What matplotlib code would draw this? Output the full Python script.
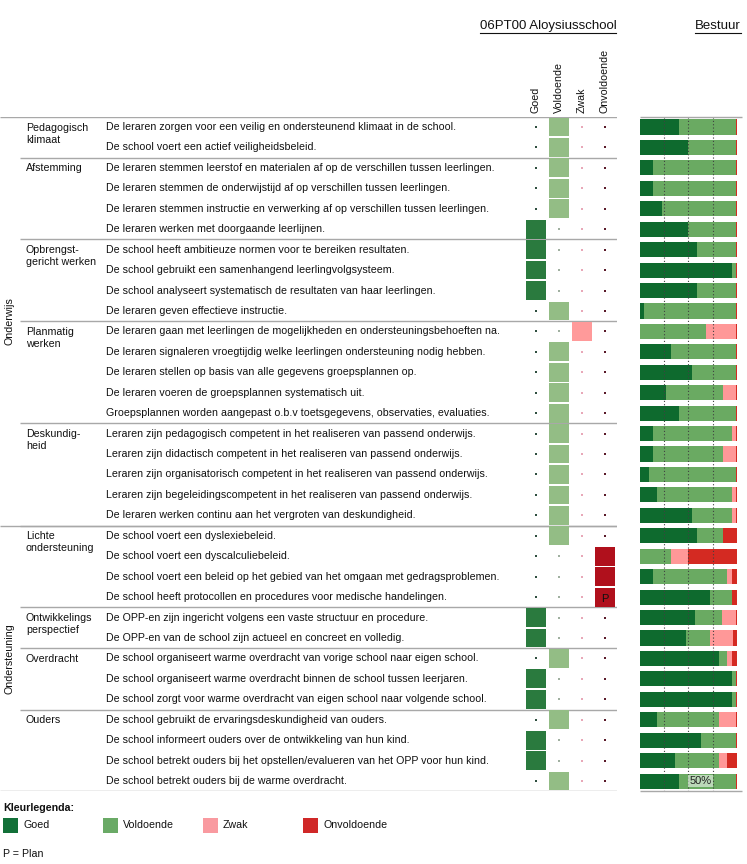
import numpy as np
import matplotlib
matplotlib.use("Agg")
import matplotlib.pyplot as plt

plt.rcParams['font.family'] = ['Liberation Sans', 'DejaVu Sans']

# --- data ---
domains = ["Onderwijs", "Ondersteuning"]
domain_sizes = [20, 13]
groups = ["Pedagogisch\nklimaat", "Afstemming", "Opbrengst-\ngericht werken", "Planmatig\nwerken",
          "Deskundig-\nheid", "Lichte\nondersteuning", "Ontwikkelings\nperspectief", "Overdracht", "Ouders"]
group_sizes = [2, 4, 4, 5, 5, 4, 2, 3, 4]
items = [
    "De leraren zorgen voor een veilig en ondersteunend klimaat in de school.",
    "De school voert een actief veiligheidsbeleid.",
    "De leraren stemmen leerstof en materialen af op de verschillen tussen leerlingen.",
    "De leraren stemmen de onderwijstijd af op verschillen tussen leerlingen.",
    "De leraren stemmen instructie en verwerking af op verschillen tussen leerlingen.",
    "De leraren werken met doorgaande leerlijnen.",
    "De school heeft ambitieuze normen voor te bereiken resultaten.",
    "De school gebruikt een samenhangend leerlingvolgsysteem.",
    "De school analyseert systematisch de resultaten van haar leerlingen.",
    "De leraren geven effectieve instructie.",
    "De leraren gaan met leerlingen de mogelijkheden en ondersteuningsbehoeften na.",
    "De leraren signaleren vroegtijdig welke leerlingen ondersteuning nodig hebben.",
    "De leraren stellen op basis van alle gegevens groepsplannen op.",
    "De leraren voeren de groepsplannen systematisch uit.",
    "Groepsplannen worden aangepast o.b.v toetsgegevens, observaties, evaluaties.",
    "Leraren zijn pedagogisch competent in het realiseren van passend onderwijs.",
    "Leraren zijn didactisch competent in het realiseren van passend onderwijs.",
    "Leraren zijn organisatorisch competent in het realiseren van passend onderwijs.",
    "Leraren zijn begeleidingscompetent in het realiseren van passend onderwijs.",
    "De leraren werken continu aan het vergroten van deskundigheid.",
    "De school voert een dyslexiebeleid.",
    "De school voert een dyscalculiebeleid.",
    "De school voert een beleid op het gebied van het omgaan met gedragsproblemen.",
    "De school heeft protocollen en procedures voor medische handelingen.",
    "De OPP-en zijn ingericht volgens een vaste structuur en procedure.",
    "De OPP-en van de school zijn actueel en concreet en volledig.",
    "De school organiseert warme overdracht van vorige school naar eigen school.",
    "De school organiseert warme overdracht binnen de school tussen leerjaren.",
    "De school zorgt voor warme overdracht van eigen school naar volgende school.",
    "De school gebruikt de ervaringsdeskundigheid van ouders.",
    "De school informeert ouders over de ontwikkeling van hun kind.",
    "De school betrekt ouders bij het opstellen/evalueren van het OPP voor hun kind.",
    "De school betrekt ouders bij de warme overdracht.",
]
levels = ["Goed", "Voldoende", "Zwak", "Onvoldoende"]
# school score: 0=Goed 1=Voldoende 2=Zwak 3=Onvoldoende
school = [1, 1, 1, 1, 1, 0, 0, 0, 0, 1, 2, 1, 1, 1, 1, 1, 1, 1, 1, 1,
          1, 3, 3, 3, 0, 0, 1, 0, 0, 1, 0, 0, 1]
plan = [24]  # item number with "P"
# bestuur distribution (%)
b_goed = [40, 50, 13, 13, 23, 50, 59, 95, 59, 4, 0, 32, 54, 27, 40, 13, 13, 9, 18, 54,
          59, 0, 13, 72, 57, 48, 82, 95, 95, 18, 63, 36, 40]
b_vold = [59, 49, 86, 86, 76, 49, 40, 4, 40, 95, 68, 67, 45, 59, 59, 82, 73, 90, 77, 41,
          27, 32, 77, 23, 28, 24, 8, 4, 4, 64, 36, 46, 59]
b_zwak = [0, 0, 0, 0, 0, 0, 0, 0, 0, 0, 31, 0, 0, 13, 0, 4, 13, 0, 4, 4,
          0, 18, 5, 0, 14, 24, 5, 0, 0, 17, 0, 8, 0]
b_onv = [1, 1, 1, 1, 1, 1, 1, 1, 1, 1, 1, 1, 1, 1, 1, 1, 1, 1, 1, 1,
         14, 50, 5, 5, 1, 4, 5, 1, 1, 1, 1, 10, 1]

sq_colors = ["#2a7a3e", "#93bd85", "#ff9a9a", "#b0101c"]
dot_colors = ["#2f4f3f", "#a0b0a0", "#e8a8b8", "#5a1a2a"]
bar_colors = ["#0e6a2e", "#6aaa62", "#ff9898", "#d42a22"]
leg_colors = ["#127038", "#6aaa66", "#f99aa0", "#d02828"]

fs = 7.65
W, H = 747, 864
fig = plt.figure(figsize=(W / 100, H / 100), dpi=100)
top_px, bot_px = 116.8, 791.3
n = len(items)
fb = 1 - bot_px / H
fh = (bot_px - top_px) / H

# text / table area in pixel x units
ax = fig.add_axes([0, fb, 617 / W, fh])
ax.set_xlim(0, 617)
ax.set_ylim(n - 0.5, -0.5)
ax.axis("off")
for i, t in enumerate(items):
    ax.text(106, i, t, fontsize=fs, va="center", ha="left", color="#111111")

lc = "#a8a8a8"
ax.hlines(-0.5, 0, 617, color=lc, lw=1)
start = 0
for g, s in zip(groups, group_sizes):
    ax.text(26, start - 0.22, g, fontsize=fs, va="top", ha="left", color="#111111", linespacing=1.25)
    if start > 0:
        ax.hlines(start - 0.5, 20, 617, color=lc, lw=1)
    start += s
start = 0
for d, s in zip(domains, domain_sizes):
    ax.text(10, start + s / 2 - 0.5, d, fontsize=fs, rotation=90, va="center", ha="center", color="#111111")
    if start > 0:
        ax.hlines(start - 0.5, 0, 617, color=lc, lw=1)
    start += s
ax.hlines(n - 0.5, 0, 617, color=lc, lw=1)

# school matrix
axm = fig.add_axes([524.5 / W, fb, 92 / W, fh])
axm.set_xlim(-0.5, 3.5)
axm.set_ylim(n - 0.5, -0.5)
axm.axis("off")
rows = np.arange(n)
for c in range(4):
    sel = [i for i in rows if school[i] == c]
    oth = [i for i in rows if school[i] != c]
    axm.bar([c] * len(sel), 0.92, width=0.83, bottom=np.array(sel) - 0.46, color=sq_colors[c])
    axm.scatter([c] * len(oth), oth, s=3, marker="s", color=dot_colors[c], lw=0)
for p in plan:
    axm.text(3, p - 1 + 0.1, "P", fontsize=8, ha="center", va="center", color="#111111")

# bestuur bars
axb = fig.add_axes([640 / W, fb, 96.7 / W, fh])
axb.set_xlim(0, 100)
axb.set_ylim(n - 0.5, -0.5)
axb.axis("off")
left = np.zeros(n)
for vals, col in zip([b_goed, b_vold, b_zwak, b_onv], bar_colors):
    axb.barh(rows, vals, left=left, height=0.74, color=col, lw=0)
    left += np.array(vals)
axb.vlines([25, 50, 75], -0.5, n - 0.5, color="#404040", lw=0.8, linestyles=(0, (1, 2)), zorder=5)
axb.text(51, n - 1, "50%", fontsize=8, va="center", ha="left", color="#222222", zorder=6,
         bbox=dict(boxstyle="square,pad=0.1", fc="white", ec="none", alpha=0.55))

# bars frame lines
axo = fig.add_axes([0, 0, 1, 1])
axo.set_xlim(0, W)
axo.set_ylim(H, 0)
axo.axis("off")
axo.hlines([top_px, bot_px], 640, 742, color=lc, lw=1)

# column headers
for c, lab in enumerate(levels):
    axo.text(535.5 + c * 23, 113, lab, fontsize=fs, rotation=90, ha="center", va="bottom", color="#111111")

# titles with underline
t1 = axo.text(548, 26, "06PT00 Aloysiusschool", fontsize=9.5, ha="center", va="center", color="#111111")
t2 = axo.text(741, 26, "Bestuur", fontsize=9.5, ha="right", va="center", color="#111111")
fig.canvas.draw()
r = fig.canvas.get_renderer()
for t in (t1, t2):
    bb = t.get_window_extent(r)
    y = H - bb.y0 + 1
    axo.plot([bb.x0, bb.x1], [y, y], color="#111111", lw=0.8)

# legend
axo.text(3, 808, "Kleurlegenda:", fontsize=fs, fontweight="bold", ha="left", va="center", color="#111111")
for c, lab in enumerate(levels):
    x0 = 3 + c * 100
    axo.bar(x0 + 7.5, 15, width=15, bottom=817.5, color=leg_colors[c])
    axo.text(x0 + 20, 825, lab, fontsize=fs, ha="left", va="center", color="#111111")
axo.text(3, 854, "P = Plan", fontsize=fs, ha="left", va="center", color="#111111")

fig.savefig("out.png", dpi=100)
